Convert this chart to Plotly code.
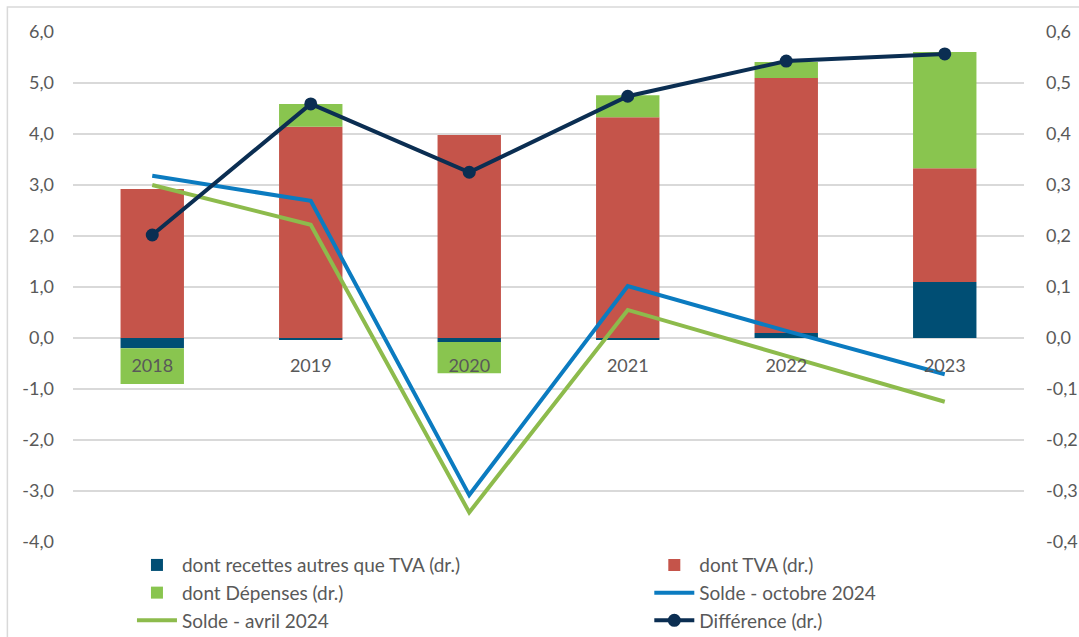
import plotly.graph_objects as go

years = ['2018', '2019', '2020', '2021', '2022', '2023']

# contributions (right axis, "dr.")
recettes_autres = [-0.020, -0.002, -0.008, -0.002, 0.010, 0.110]
tva = [0.292, 0.414, 0.398, 0.433, 0.500, 0.223]
depenses = [-0.070, 0.045, -0.061, 0.043, 0.031, 0.228]

# soldes (left axis)
solde_oct_2024 = [3.18, 2.69, -3.08, 1.02, 0.14, -0.71]
solde_avr_2024 = [3.00, 2.22, -3.42, 0.55, -0.35, -1.25]

# difference (right axis)
difference = [0.202, 0.459, 0.325, 0.474, 0.543, 0.557]

# tick labels
left_ticks = [-4, -3, -2, -1, 0, 1, 2, 3, 4, 5, 6]
left_labels = ['-4,0', '-3,0', '-2,0', '-1,0', '0,0', '1,0', '2,0', '3,0', '4,0', '5,0', '6,0']
right_ticks = [-0.4, -0.3, -0.2, -0.1, 0.0, 0.1, 0.2, 0.3, 0.4, 0.5, 0.6]
right_labels = ['-0,4', '-0,3', '-0,2', '-0,1', '0,0', '0,1', '0,2', '0,3', '0,4', '0,5', '0,6']

grey_txt = '#595959'
font_name = 'Lato'

fig = go.Figure()

# bars on the base axis (right side) so the lines are drawn above them
# legend = left column, legend2 = right column
fig.add_trace(go.Bar(x=years, y=recettes_autres, name='dont recettes autres que TVA (dr.)',
                     marker=dict(color='#004e74', line=dict(width=0)), width=0.4, yaxis='y',
                     legend='legend'))
fig.add_trace(go.Bar(x=years, y=tva, name='dont TVA (dr.)',
                     marker=dict(color='#c5544a', line=dict(width=0)), width=0.4, yaxis='y',
                     legend='legend2'))
fig.add_trace(go.Bar(x=years, y=depenses, name='dont Dépenses (dr.)',
                     marker=dict(color='#89c54f', line=dict(width=0)), width=0.4, yaxis='y',
                     legend='legend'))

fig.add_trace(go.Scatter(x=years, y=solde_oct_2024, name='Solde - octobre 2024', mode='lines',
                         line=dict(color='#0b7bc0', width=4), yaxis='y2', legend='legend2'))
fig.add_trace(go.Scatter(x=years, y=solde_avr_2024, name='Solde - avril 2024', mode='lines',
                         line=dict(color='#8dbb4c', width=4), yaxis='y2', legend='legend'))

fig.add_trace(go.Scatter(x=years, y=difference, name='Différence (dr.)', mode='lines+markers',
                         line=dict(color='#0b2e52', width=4), marker=dict(size=13, color='#0b2e52'),
                         yaxis='y3', legend='legend2'))

# outer frame (only left and top edges are visible in the picture)
fig.add_shape(type='rect', xref='paper', yref='paper', x0=-0.069, x1=1.2, y0=-0.4, y1=1.049,
              line=dict(color='#d9d9d9', width=1.5), fillcolor='rgba(0,0,0,0)', layer='below')

legend_style = dict(
    orientation='v',
    y=-0.008,
    yanchor='top',
    xanchor='left',
    traceorder='normal',
    font=dict(size=19, color=grey_txt),
    itemwidth=40,
    tracegroupgap=0,
    bgcolor='rgba(0,0,0,0)',
)

fig.update_layout(
    width=1079,
    height=637,
    paper_bgcolor='white',
    plot_bgcolor='white',
    barmode='relative',
    margin=dict(l=73, r=55, t=32, b=95, autoexpand=False),
    font=dict(family=font_name, color=grey_txt, size=18),
    xaxis=dict(
        anchor='free',
        position=0.4,
        showgrid=False,
        showline=False,
        ticks='',
        tickfont=dict(size=18, color=grey_txt),
        ticklabelstandoff=15,
    ),
    yaxis=dict(
        side='right',
        range=[-0.4, 0.6],
        tickvals=right_ticks,
        ticktext=right_labels,
        showgrid=True,
        gridcolor='#d9d9d9',
        gridwidth=1.5,
        zeroline=False,
        tickfont=dict(size=18, color=grey_txt),
        ticklabelstandoff=21,
    ),
    yaxis2=dict(
        overlaying='y',
        side='left',
        range=[-4, 6],
        tickvals=left_ticks,
        ticktext=left_labels,
        showgrid=False,
        zeroline=False,
        tickfont=dict(size=18, color=grey_txt),
        ticklabelstandoff=18,
    ),
    yaxis3=dict(
        overlaying='y',
        range=[-0.4, 0.6],
        visible=False,
    ),
    legend=dict(x=0.062, **legend_style),
    legend2=dict(x=0.606, **legend_style),
    showlegend=True,
)

# the default page has an 8px body margin; remove it so the figure fills the window
fig.write_html('out.html', config={'displayModeBar': False},
               post_script="document.body.style.margin = '0';")
